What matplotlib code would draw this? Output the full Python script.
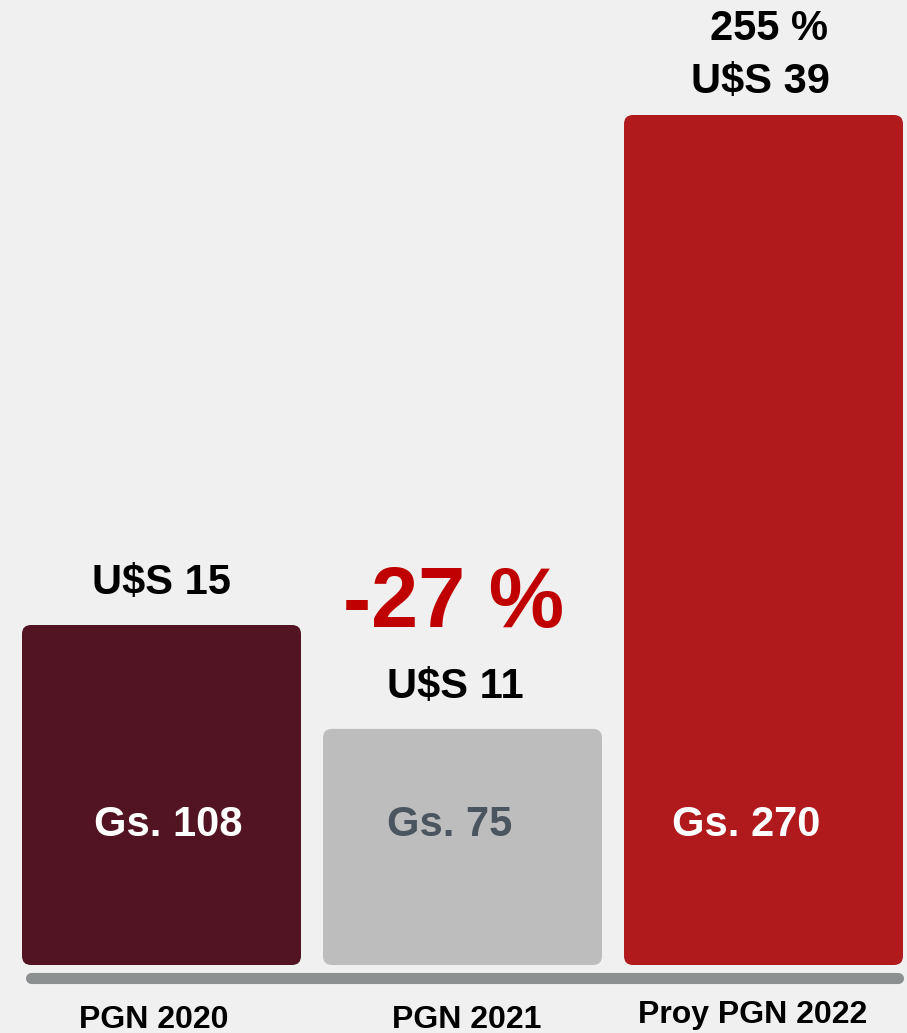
import matplotlib.pyplot as plt
from matplotlib.patches import FancyBboxPatch

categories = ['PGN 2020', 'PGN 2021', 'Proy PGN 2022']
gs_values = [108, 75, 270]
gs_labels = ['Gs. 108', 'Gs. 75', 'Gs. 270']
usd_labels = ['U$S 15', 'U$S 11', 'U$S 39']
pct_labels = [None, '-27 %', '255 %']

bar_colors = ['#521422', '#bdbdbd', '#b01a1d']
inner_colors = ['white', '#4a5560', 'white']
bg = '#f0f0f0'

W, H = 907, 1033
px_per_unit = 850 / 270.0   # pixel height per Gs unit
base_px = 68                # baseline height above figure bottom
step_px = 301.0             # bar spacing
first_px = 161.5            # first bar centre

fig = plt.figure(figsize=(W / 100, H / 100), dpi=100, facecolor=bg)
ax = fig.add_axes([0, 0, 1, 1])
ax.set_facecolor(bg)
ax.set_xlim(-first_px / step_px, (W - first_px) / step_px)
ax.set_ylim(-base_px / px_per_unit, (H - base_px) / px_per_unit)
ax.set_axis_off()

plt.rcParams['font.family'] = ['Liberation Sans', 'DejaVu Sans']

width = 279 / step_px
r_x = 9 / step_px
aspect = (9 / px_per_unit) / r_x

def dy(px):
    return px / px_per_unit

for i, v in enumerate(gs_values):
    box = FancyBboxPatch((i - width / 2, 0), width, v,
                         boxstyle=f'round,pad=0,rounding_size={r_x}',
                         mutation_aspect=aspect,
                         facecolor=bar_colors[i], edgecolor='none')
    ax.add_patch(box)

# inner labels
inner_dx = [7, -13, -17]
for i, v in enumerate(gs_values):
    ax.text(i + inner_dx[i] / step_px, dy(965 - 825), gs_labels[i], ha='center', va='center',
            fontsize=30, fontweight='bold', color=inner_colors[i])

# value labels above bars
ax.text(0, gs_values[0] + dy(42), usd_labels[0], ha='center', va='center',
        fontsize=30, fontweight='bold', color='black')
ax.text(1 - 7 / step_px, gs_values[1] + dy(42), usd_labels[1], ha='center', va='center',
        fontsize=30, fontweight='bold', color='black')
ax.text(1 - 9 / step_px, gs_values[1] + dy(124), pct_labels[1], ha='center', va='center',
        fontsize=61, fontweight='bold', color='#c00000')
ax.text(2 - 3 / step_px, gs_values[2] + dy(33), usd_labels[2], ha='center', va='center',
        fontsize=30, fontweight='bold', color='black')
ax.text(2 + 6 / step_px, gs_values[2] + dy(86), pct_labels[2], ha='center', va='center',
        fontsize=30, fontweight='bold', color='black')

# baseline
ax.plot([-first_px / step_px + 31 / step_px, 2 + 134 / step_px], [-dy(13), -dy(13)],
        color='#8c9090', lw=8, solid_capstyle='round')

# category labels
cat_dx = [-8, 4, -11]
cat_dy = [55, 55, 50]
for i, c in enumerate(categories):
    ax.text(i + cat_dx[i] / step_px, -dy(cat_dy[i]), c, ha='center', va='center',
            fontsize=23, fontweight='bold', color='black',
            family=['Liberation Sans Narrow', 'Liberation Sans', 'DejaVu Sans'])

fig.savefig('out.png', dpi=100, facecolor=bg)
